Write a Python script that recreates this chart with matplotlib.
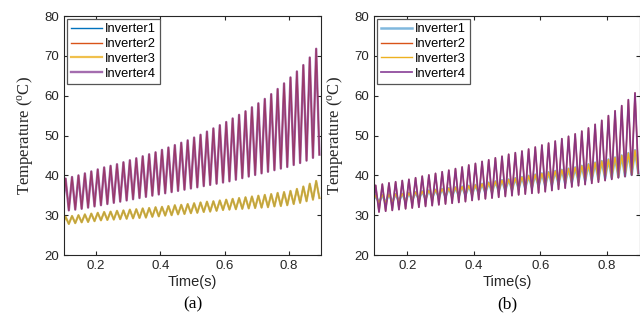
import numpy as np
import matplotlib
matplotlib.use("Agg")
import matplotlib.pyplot as plt

# MATLAB default line colours
c_blue, c_orange, c_yellow, c_purple = "#0072BD", "#D95319", "#EDB120", "#7E2F8E"

labels = ["Inverter1", "Inverter2", "Inverter3", "Inverter4"]

# sampling: troughs at 0.095 + 0.02k (41), peaks at 0.105 + 0.02k (40)
trough_t = np.arange(41) * 0.02 + 0.095
peak_t = np.arange(40) * 0.02 + 0.105

# ---- (a) ----
a_hot_peaks = [39.2, 39.6, 40.0, 40.5, 41.0, 41.5, 42.0, 42.4, 42.8, 43.3,
               43.8, 44.3, 44.8, 45.3, 45.8, 46.4, 47.0, 47.6, 48.2, 48.8,
               49.5, 50.2, 51.0, 51.8, 52.6, 53.4, 54.3, 55.2, 56.1, 57.1,
               58.1, 59.2, 60.4, 61.7, 63.1, 64.6, 66.1, 67.7, 69.6, 71.8]
a_hot_troughs = [31.0, 31.2, 31.4, 31.6, 31.9, 32.2, 32.5, 32.8, 33.1, 33.4,
                 33.7, 34.0, 34.3, 34.6, 34.9, 35.2, 35.5, 35.8, 36.1, 36.4,
                 36.7, 37.0, 37.3, 37.6, 37.9, 38.2, 38.5, 38.9, 39.3, 39.7,
                 40.1, 40.5, 40.9, 41.3, 41.7, 42.1, 42.6, 43.1, 43.7, 44.4, 45.2]
a_cool_peaks = [29.6, 29.8, 30.0, 30.2, 30.4, 30.6, 30.8, 30.9, 31.1, 31.2,
                31.4, 31.5, 31.7, 31.8, 32.0, 32.1, 32.3, 32.5, 32.6, 32.8,
                33.0, 33.2, 33.4, 33.5, 33.7, 33.9, 34.1, 34.3, 34.5, 34.7,
                34.9, 35.1, 35.3, 35.6, 35.8, 36.1, 36.6, 37.2, 37.9, 38.6]
a_cool_troughs = [27.6, 27.8, 28.0, 28.2, 28.3, 28.5, 28.7, 28.8, 28.9, 29.0,
                  29.1, 29.2, 29.3, 29.4, 29.6, 29.7, 29.9, 30.0, 30.2, 30.3,
                  30.5, 30.6, 30.8, 30.9, 31.1, 31.3, 31.4, 31.5, 31.6, 31.7,
                  31.8, 31.9, 32.0, 32.2, 32.3, 32.5, 32.8, 33.1, 33.5, 33.9, 34.3]

# ---- (b) ----
b_hot_peaks = [37.5, 37.8, 38.1, 38.4, 38.7, 39.0, 39.4, 39.8, 40.1, 40.5,
               40.9, 41.3, 41.7, 42.1, 42.6, 43.0, 43.5, 43.9, 44.4, 44.8,
               45.3, 45.7, 46.1, 46.6, 47.1, 47.6, 48.1, 48.6, 49.2, 49.8,
               50.4, 51.1, 51.9, 52.8, 53.8, 55.0, 56.2, 57.5, 59.0, 60.7]
b_hot_troughs = [30.6, 30.8, 31.0, 31.2, 31.4, 31.6, 31.8, 32.0, 32.2, 32.4,
                 32.6, 32.8, 33.0, 33.2, 33.4, 33.7, 33.9, 34.1, 34.3, 34.5,
                 34.7, 34.9, 35.1, 35.3, 35.5, 35.6, 35.9, 36.2, 36.5, 36.8,
                 37.1, 37.4, 37.7, 38.0, 38.3, 38.7, 39.0, 39.4, 39.7, 40.1, 40.5]
b_cool_peaks = [35.0, 35.1, 35.2, 35.3, 35.4, 35.6, 35.8, 36.0, 36.2, 36.4,
                36.6, 36.8, 37.0, 37.2, 37.4, 37.6, 37.9, 38.2, 38.5, 38.8,
                39.0, 39.3, 39.6, 39.9, 40.2, 40.5, 40.8, 41.1, 41.4, 41.7,
                42.0, 42.4, 42.8, 43.2, 43.6, 44.0, 44.5, 45.0, 45.6, 46.3]
b_cool_troughs = [33.0, 33.1, 33.2, 33.3, 33.4, 33.5, 33.7, 33.9, 34.1, 34.3,
                  34.5, 34.6, 34.7, 34.8, 35.0, 35.2, 35.4, 35.6, 35.8, 36.0,
                  36.2, 36.4, 36.6, 36.8, 37.0, 37.2, 37.4, 37.6, 37.8, 38.0,
                  38.2, 38.4, 38.6, 38.8, 39.0, 39.2, 39.4, 39.6, 39.8, 40.1, 40.4]


def wave(troughs, peaks):
    # interleave trough, peak, trough, ... into one trace
    t = np.empty(len(troughs) + len(peaks))
    y = np.empty_like(t)
    t[0::2], t[1::2] = trough_t, peak_t
    y[0::2], y[1::2] = troughs, peaks
    return t, y


plt.rcParams["font.family"] = "Liberation Sans"
serif = "Liberation Serif"
dark = "#262626"

fig = plt.figure(figsize=(6.4, 3.19), dpi=100)
axa = fig.add_axes([64 / 640, 0.2006, 257 / 640, 0.749])
axb = fig.add_axes([374 / 640, 0.2006, 266 / 640, 0.749])

# (a): 1 under 3, 2 under 4
t, y = wave(a_cool_troughs, a_cool_peaks)
axa.plot(t, y, color=c_blue, lw=1.0, label=labels[0])
t, y = wave(a_hot_troughs, a_hot_peaks)
axa.plot(t, y, color=c_orange, lw=1.0, label=labels[1])
t, y = wave(a_cool_troughs, a_cool_peaks)
axa.plot(t, y, color=c_yellow, lw=1.6, alpha=0.8, label=labels[2])
t, y = wave(a_hot_troughs, a_hot_peaks)
axa.plot(t, y, color=c_purple, lw=1.7, alpha=0.7, label=labels[3])

# (b)
t, y = wave(b_cool_troughs, b_cool_peaks)
axb.plot(t, y, color=c_blue, lw=1.8, alpha=0.5, label=labels[0])
t, y = wave(b_hot_troughs, b_hot_peaks)
axb.plot(t, y, color=c_orange, lw=1.0, label=labels[1])
t, y = wave(b_cool_troughs, b_cool_peaks)
axb.plot(t, y, color=c_yellow, lw=1.0, label=labels[2])
t, y = wave(b_hot_troughs, b_hot_peaks)
axb.plot(t, y, color=c_purple, lw=1.3, alpha=0.85, label=labels[3])

for ax, tag in [(axa, "(a)"), (axb, "(b)")]:
    ax.set_xlim(0.1, 0.9)
    ax.set_ylim(20, 80)
    ax.set_xticks([0.2, 0.4, 0.6, 0.8])
    ax.set_yticks(range(20, 81, 10))
    ax.tick_params(direction="in", top=True, right=True, length=3,
                   labelsize=9.5, colors=dark, labelcolor=dark)
    for s in ax.spines.values():
        s.set_color(dark)
        s.set_linewidth(0.8)
    ax.set_xlabel("Time(s)", fontsize=10.5, labelpad=2, color=dark)
    ax.set_ylabel(r"Temperature ($\mathregular{^{o}}$C)", family=serif,
                  fontsize=12, labelpad=7, color=dark)
    box = ax.get_position()
    fig.text((box.x0 + 0.5 * (box.x1 - box.x0)) if tag == "(a)" else 507 / 640,
             0.045, tag, ha="center", va="center", family=serif, fontsize=12.5)
    leg = ax.legend(loc="upper left", fontsize=9.3, handlelength=2.4,
                    handletextpad=0.2, labelspacing=0.22, borderpad=0.3,
                    borderaxespad=0.25, fancybox=False, framealpha=1)
    leg.get_frame().set_edgecolor("#555555")
    leg.get_frame().set_linewidth(0.9)

fig.savefig("out.png", dpi=100)
